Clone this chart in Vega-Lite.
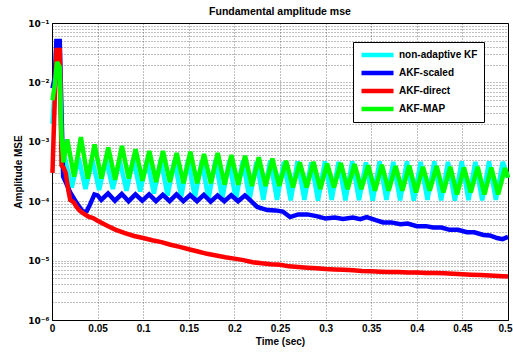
{
  "$schema": "https://vega.github.io/schema/vega-lite/v6.json",
  "width": 456,
  "height": 297,
  "autosize": {"type": "none"},
  "padding": {"left": 52, "top": 23, "right": 5, "bottom": 33},
  "background": "white",
  "title": {"text": "Fundamental amplitude mse", "fontSize": 10.5, "fontWeight": "bold", "font": "Liberation Sans", "color": "black", "offset": -6, "baseline": "alphabetic"},
  "config": {
    "view": {"stroke": "black", "strokeWidth": 1},
    "axis": {
      "labelFont": "Liberation Sans", "labelFontWeight": "bold", "labelFontSize": 10, "labelColor": "black",
      "titleFont": "Liberation Sans", "titleFontWeight": "bold", "titleFontSize": 10, "titleColor": "black",
      "domainColor": "black", "gridColor": "#000", "gridDash": [1, 2], "gridOpacity": 0.5, "ticks": false
    },
    "legend": {
      "orient": "none", "legendX": 301, "legendY": 19,
      "symbolType": "stroke", "symbolSize": 1024, "symbolStrokeWidth": 4, "clipHeight": 14,
      "labelFont": "Liberation Sans", "labelFontWeight": "bold", "labelFontSize": 10, "labelColor": "black",
      "fillColor": "white", "strokeColor": "black", "padding": 6, "rowPadding": 4, "labelOffset": 3
    },
    "line": {"strokeWidth": 4.5, "strokeJoin": "miter", "strokeMiterLimit": 3, "clip": true}
  },
  "datasets": {
    "c": [{"t":0.0005,"v":0.002},{"t":0.003,"v":0.008},{"t":0.0055,"v":0.018},{"t":0.0085,"v":0.012},{"t":0.0105,"v":0.0009},{"t":0.0142,"v":0.00052},{"t":0.0217,"v":0.00017},{"t":0.0292,"v":0.00054},{"t":0.0367,"v":0.00016},{"t":0.0442,"v":0.0005},{"t":0.0517,"v":0.000155},{"t":0.0592,"v":0.00052},{"t":0.0667,"v":0.00016},{"t":0.0742,"v":0.00049},{"t":0.0817,"v":0.00015},{"t":0.0892,"v":0.00051},{"t":0.0967,"v":0.000145},{"t":0.1042,"v":0.00049},{"t":0.1117,"v":0.000135},{"t":0.1192,"v":0.0005},{"t":0.1267,"v":0.000125},{"t":0.1342,"v":0.00048},{"t":0.1417,"v":0.00012},{"t":0.1492,"v":0.0005},{"t":0.1567,"v":0.000115},{"t":0.1642,"v":0.00047},{"t":0.1717,"v":0.00011},{"t":0.1792,"v":0.00049},{"t":0.1867,"v":0.00011},{"t":0.1942,"v":0.00047},{"t":0.2017,"v":0.000105},{"t":0.2092,"v":0.00048},{"t":0.2167,"v":0.000108},{"t":0.2242,"v":0.00046},{"t":0.2317,"v":0.000105},{"t":0.2392,"v":0.00048},{"t":0.2467,"v":0.000105},{"t":0.2542,"v":0.00046},{"t":0.2617,"v":0.000103},{"t":0.2692,"v":0.00047},{"t":0.2767,"v":0.000105},{"t":0.2842,"v":0.00045},{"t":0.2917,"v":0.000102},{"t":0.2992,"v":0.00047},{"t":0.3067,"v":0.000105},{"t":0.3142,"v":0.00046},{"t":0.3217,"v":0.000103},{"t":0.3292,"v":0.00047},{"t":0.3367,"v":0.000104},{"t":0.3442,"v":0.00045},{"t":0.3517,"v":0.000102},{"t":0.3592,"v":0.00047},{"t":0.3667,"v":0.000105},{"t":0.3742,"v":0.00046},{"t":0.3817,"v":0.000103},{"t":0.3892,"v":0.00047},{"t":0.3967,"v":0.000102},{"t":0.4042,"v":0.00046},{"t":0.4117,"v":0.000105},{"t":0.4192,"v":0.00047},{"t":0.4267,"v":0.000103},{"t":0.4342,"v":0.00046},{"t":0.4417,"v":0.000102},{"t":0.4492,"v":0.00047},{"t":0.4567,"v":0.000104},{"t":0.4642,"v":0.00046},{"t":0.4717,"v":0.000103},{"t":0.4792,"v":0.00047},{"t":0.4867,"v":0.000105},{"t":0.4942,"v":0.00046},{"t":0.5,"v":0.00025}],
    "b": [{"t":0.0005,"v":0.008},{"t":0.003,"v":0.012},{"t":0.0048,"v":0.05},{"t":0.0085,"v":0.05},{"t":0.0105,"v":0.003},{"t":0.0122,"v":0.00026},{"t":0.015,"v":0.00021},{"t":0.02,"v":0.00014},{"t":0.025,"v":0.000105},{"t":0.03,"v":0.00008},{"t":0.034,"v":0.000066},{"t":0.038,"v":0.000068},{"t":0.042,"v":0.00009},{"t":0.0465,"v":0.00013},{"t":0.05,"v":0.000125},{"t":0.054,"v":0.000105},{"t":0.0615,"v":0.000135},{"t":0.069,"v":0.000102},{"t":0.0765,"v":0.000132},{"t":0.084,"v":0.0001},{"t":0.0915,"v":0.00013},{"t":0.099,"v":0.000102},{"t":0.1065,"v":0.00013},{"t":0.114,"v":0.0001},{"t":0.1215,"v":0.000128},{"t":0.129,"v":0.0001},{"t":0.1365,"v":0.00013},{"t":0.144,"v":0.0001},{"t":0.1515,"v":0.000127},{"t":0.159,"v":0.0001},{"t":0.1665,"v":0.000128},{"t":0.174,"v":0.000098},{"t":0.1815,"v":0.000125},{"t":0.189,"v":0.0001},{"t":0.1965,"v":0.000126},{"t":0.204,"v":0.0001},{"t":0.2115,"v":0.000125},{"t":0.217,"v":0.000105},{"t":0.225,"v":0.00008},{"t":0.236,"v":0.000071},{"t":0.245,"v":0.00007},{"t":0.253,"v":0.000067},{"t":0.261,"v":0.000054},{"t":0.27,"v":0.00006},{"t":0.28,"v":0.00006},{"t":0.29,"v":0.000056},{"t":0.3,"v":0.000051},{"t":0.31,"v":0.000053},{"t":0.319,"v":0.00005},{"t":0.33,"v":0.000053},{"t":0.338,"v":0.00005},{"t":0.345,"v":0.000054},{"t":0.355,"v":0.000048},{"t":0.363,"v":0.000044},{"t":0.372,"v":0.000044},{"t":0.382,"v":0.000041},{"t":0.39,"v":0.000042},{"t":0.4,"v":0.000038},{"t":0.41,"v":0.000038},{"t":0.418,"v":0.000036},{"t":0.427,"v":0.000036},{"t":0.436,"v":0.000033},{"t":0.445,"v":0.000033},{"t":0.455,"v":0.00003},{"t":0.463,"v":0.00003},{"t":0.473,"v":0.000027},{"t":0.48,"v":0.0000265},{"t":0.488,"v":0.000024},{"t":0.494,"v":0.000023},{"t":0.5,"v":0.000025}],
    "r": [{"t":0.0005,"v":0.0003},{"t":0.003,"v":0.005},{"t":0.005,"v":0.035},{"t":0.0085,"v":0.035},{"t":0.0105,"v":0.0004},{"t":0.013,"v":0.00036},{"t":0.015,"v":0.0003},{"t":0.018,"v":0.00015},{"t":0.02,"v":0.000105},{"t":0.024,"v":0.000095},{"t":0.027,"v":0.00008},{"t":0.03,"v":0.00007},{"t":0.034,"v":0.000063},{"t":0.04,"v":0.000055},{"t":0.045,"v":0.000052},{"t":0.05,"v":0.000047},{"t":0.06,"v":0.000039},{"t":0.07,"v":0.000033},{"t":0.08,"v":0.000029},{"t":0.09,"v":0.000026},{"t":0.1,"v":0.000024},{"t":0.11,"v":0.000022},{"t":0.12,"v":0.0000205},{"t":0.13,"v":0.0000185},{"t":0.14,"v":0.000017},{"t":0.15,"v":0.0000155},{"t":0.16,"v":0.0000142},{"t":0.17,"v":0.000013},{"t":0.18,"v":0.0000122},{"t":0.19,"v":0.0000114},{"t":0.2,"v":0.0000108},{"t":0.21,"v":0.0000102},{"t":0.22,"v":0.0000094},{"t":0.23,"v":0.000009},{"t":0.24,"v":0.0000087},{"t":0.25,"v":0.0000085},{"t":0.26,"v":0.000008},{"t":0.27,"v":0.0000078},{"t":0.28,"v":0.0000076},{"t":0.29,"v":0.0000074},{"t":0.3,"v":0.0000072},{"t":0.31,"v":0.0000071},{"t":0.32,"v":0.000007},{"t":0.33,"v":0.0000069},{"t":0.34,"v":0.0000067},{"t":0.35,"v":0.0000066},{"t":0.36,"v":0.0000065},{"t":0.37,"v":0.0000064},{"t":0.38,"v":0.0000064},{"t":0.39,"v":0.0000063},{"t":0.4,"v":0.0000063},{"t":0.41,"v":0.0000062},{"t":0.42,"v":0.0000062},{"t":0.43,"v":0.0000061},{"t":0.44,"v":0.000006},{"t":0.45,"v":0.0000059},{"t":0.46,"v":0.0000058},{"t":0.47,"v":0.0000057},{"t":0.48,"v":0.0000056},{"t":0.49,"v":0.0000055},{"t":0.5,"v":0.0000054}],
    "g": [{"t":0.0005,"v":0.005},{"t":0.003,"v":0.009},{"t":0.0055,"v":0.022},{"t":0.0085,"v":0.018},{"t":0.0105,"v":0.0012},{"t":0.0125,"v":0.00045},{"t":0.0167,"v":0.0011},{"t":0.0242,"v":0.00026},{"t":0.0317,"v":0.0012},{"t":0.0392,"v":0.00024},{"t":0.0467,"v":0.0009},{"t":0.0542,"v":0.00024},{"t":0.0617,"v":0.0008},{"t":0.0692,"v":0.00023},{"t":0.0767,"v":0.00085},{"t":0.0842,"v":0.00024},{"t":0.0917,"v":0.00075},{"t":0.0992,"v":0.00022},{"t":0.1067,"v":0.0007},{"t":0.1142,"v":0.00021},{"t":0.1217,"v":0.0007},{"t":0.1292,"v":0.00021},{"t":0.1367,"v":0.00065},{"t":0.1442,"v":0.0002},{"t":0.1517,"v":0.00068},{"t":0.1592,"v":0.0002},{"t":0.1667,"v":0.00062},{"t":0.1742,"v":0.0002},{"t":0.1817,"v":0.00065},{"t":0.1892,"v":0.00019},{"t":0.1967,"v":0.0006},{"t":0.2042,"v":0.00019},{"t":0.2117,"v":0.00058},{"t":0.2192,"v":0.00018},{"t":0.2267,"v":0.00055},{"t":0.2342,"v":0.00018},{"t":0.2417,"v":0.00052},{"t":0.2492,"v":0.00018},{"t":0.2567,"v":0.00048},{"t":0.2642,"v":0.00017},{"t":0.2717,"v":0.00045},{"t":0.2792,"v":0.00017},{"t":0.2867,"v":0.00046},{"t":0.2942,"v":0.00016},{"t":0.3017,"v":0.00043},{"t":0.3092,"v":0.00017},{"t":0.3167,"v":0.00044},{"t":0.3242,"v":0.00016},{"t":0.3317,"v":0.00042},{"t":0.3392,"v":0.00016},{"t":0.3467,"v":0.0004},{"t":0.3542,"v":0.00015},{"t":0.3617,"v":0.00041},{"t":0.3692,"v":0.00015},{"t":0.3767,"v":0.00039},{"t":0.3842,"v":0.00015},{"t":0.3917,"v":0.0004},{"t":0.3992,"v":0.00014},{"t":0.4067,"v":0.00038},{"t":0.4142,"v":0.00015},{"t":0.4217,"v":0.00039},{"t":0.4292,"v":0.00014},{"t":0.4367,"v":0.00038},{"t":0.4442,"v":0.00013},{"t":0.4517,"v":0.00037},{"t":0.4592,"v":0.00014},{"t":0.4667,"v":0.00038},{"t":0.4742,"v":0.00013},{"t":0.4817,"v":0.00037},{"t":0.4892,"v":0.00013},{"t":0.4967,"v":0.00036},{"t":0.5,"v":0.00025}]
  },
  "encoding": {
    "x": {"field": "t", "type": "quantitative", "scale": {"domain": [0, 0.5], "nice": false, "zero": false},
      "axis": {"title": "Time (sec)", "values": [0, 0.05, 0.1, 0.15, 0.2, 0.25, 0.3, 0.35, 0.4, 0.45, 0.5], "format": "~g", "labelPadding": 3, "titlePadding": 3, "labelFlush": false, "grid": true,
        "labelOffset": {"condition": {"test": "datum.value == 0.5", "value": -3}, "value": 0}}},
    "y": {"field": "v", "type": "quantitative", "scale": {"type": "log", "domain": [0.000001, 0.1], "nice": false},
      "axis": {"title": "Amplitude MSE", "grid": true, "labelOverlap": false, "labelPadding": 3, "titlePadding": 4,
        "labelFont": "DejaVu Sans", "labelFontSize": 9,
        "values": [0.000001,0.000002,0.000003,0.000004,0.000005,0.000006,0.000007,0.000008,0.000009,0.00001,0.00002,0.00003,0.00004,0.00005,0.00006,0.00007,0.00008,0.00009,0.0001,0.0002,0.0003,0.0004,0.0005,0.0006,0.0007,0.0008,0.0009,0.001,0.002,0.003,0.004,0.005,0.006,0.007,0.008,0.009,0.01,0.02,0.03,0.04,0.05,0.06,0.07,0.08,0.09,0.1],
        "labelExpr": "datum.value == 0.1 ? '10⁻¹' : datum.value == 0.01 ? '10⁻²' : datum.value == 0.001 ? '10⁻³' : datum.value == 0.0001 ? '10⁻⁴' : datum.value == 0.00001 ? '10⁻⁵' : datum.value == 0.000001 ? '10⁻⁶' : ''"}}
  },
  "layer": [
    {"data": {"name": "c"}, "mark": {"type": "line"}, "encoding": {"color": {"datum": "non-adaptive KF", "title": null, "scale": {"domain": ["non-adaptive KF", "AKF-scaled", "AKF-direct", "AKF-MAP"], "range": ["#00ffff", "#0000ff", "#ff0000", "#00ff00"]}}}},
    {"data": {"name": "b"}, "mark": {"type": "line"}, "encoding": {"color": {"datum": "AKF-scaled", "title": null}}},
    {"data": {"name": "r"}, "mark": {"type": "line"}, "encoding": {"color": {"datum": "AKF-direct", "title": null}}},
    {"data": {"name": "g"}, "mark": {"type": "line"}, "encoding": {"color": {"datum": "AKF-MAP", "title": null}}}
  ]
}
